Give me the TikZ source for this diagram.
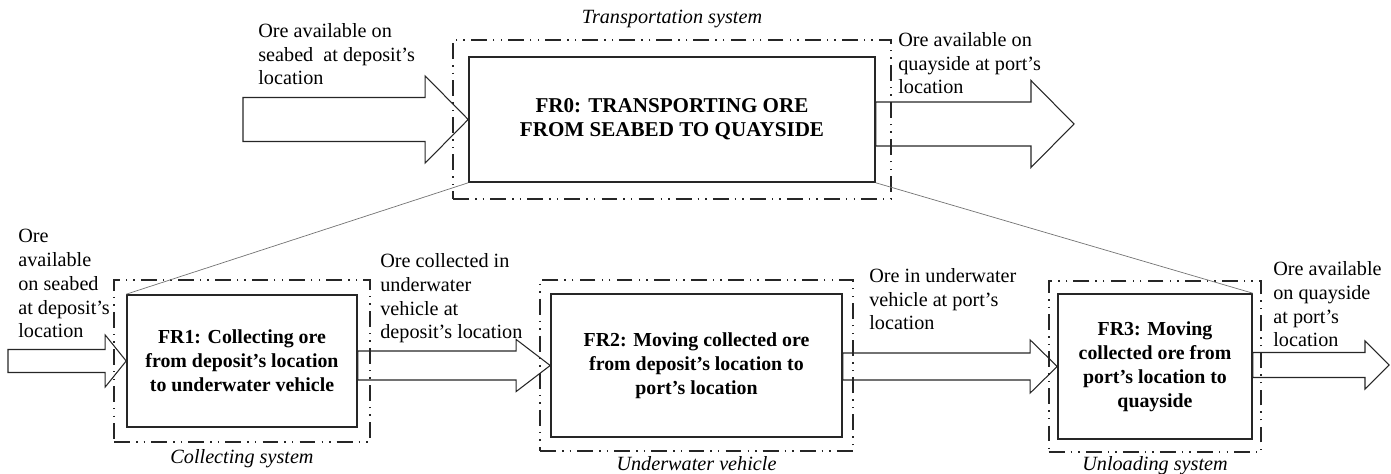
\documentclass[tikz,border=0pt]{standalone}
\usepackage{fontspec}
\setmainfont{Liberation Serif}
\usetikzlibrary{positioning,fit,calc}

% hollow block arrow: tail, tip, half shaft, half head, head length
\newcommand{\blockarrow}[5]{%
  \draw[flow] let \p1=(#1), \p2=(#2) in
    (\x1,\y2+#3) -- (\x2-#5,\y2+#3) -- (\x2-#5,\y2+#4) -- (\x2,\y2)
    -- (\x2-#5,\y2-#4) -- (\x2-#5,\y2-#3) -- (\x1,\y2-#3) -- cycle;}

\tikzset{
  frbox/.style={draw=black!85, line width=0.9pt, align=center, inner sep=2pt,
    font=\fontsize{11.3}{13.6}\selectfont\bfseries},
  sysbox/.style={draw=black!85, line width=1.1pt,
    dash pattern=on 9pt off 3.5pt on 0.8pt off 3.5pt on 0.8pt off 3.5pt},
  syslabel/.style={inner sep=1pt, font=\fontsize{11.5}{13.6}\selectfont\itshape},
  % base of a multi-line node sits on its last line
  flowtext/.style={align=left, inner sep=0pt, anchor=base west,
    font=\fontsize{11.5}{13.6}\selectfont},
  flow/.style={draw=black!85, line width=0.6pt},
  zoomline/.style={draw=black!55, line width=0.4pt}
}

\begin{document}
\begin{tikzpicture}
    \useasboundingbox (0,0) rectangle (27.82,-9.48);

    % top level requirement
    \node[frbox, minimum width=8.12cm, minimum height=2.5cm,
      font=\fontsize{12}{13.6}\selectfont\bfseries] (fr0) at (13.44,-2.39)
      {FR0: TRANSPORTING ORE\\FROM SEABED TO QUAYSIDE};
    \node[sysbox, fit=(fr0), inner xsep=0.30cm, inner ysep=0.33cm] (sys0) {};
    \node[syslabel, above=0.17cm of sys0] (lab0) {Transportation system};

    % decomposition
    \node[frbox, minimum width=4.6cm, minimum height=2.64cm] (fr1) at (4.84,-7.22)
      {FR1: Collecting ore\\from deposit's location\\to underwater vehicle};
    \node[frbox, minimum width=5.82cm, minimum height=2.86cm] (fr2) at (13.93,-7.31)
      {FR2: Moving collected ore\\from deposit's location to\\port's location};
    \node[frbox, minimum width=3.88cm, minimum height=2.9cm] (fr3) at (23.10,-7.33)
      {FR3: Moving\\collected ore from\\port's location to\\quayside};

    \node[sysbox, fit=(fr1), inner xsep=0.24cm, inner ysep=0.28cm] (sys1) {};
    \node[sysbox, fit=(fr2), inner xsep=0.20cm, inner ysep=0.27cm] (sys2) {};
    \node[sysbox, fit=(fr3), inner xsep=0.17cm, inner ysep=0.25cm] (sys3) {};
    \node[syslabel, below=0.1cm of sys1] (lab1) {Collecting system};
    \node[syslabel, below=0.05cm of sys2] (lab2) {Underwater vehicle};
    \node[syslabel, below=0.02cm of sys3] (lab3) {Unloading system};

    \draw[zoomline] (fr0.south west) -- (fr1.north west);
    \draw[zoomline] (fr0.south east) -- (fr3.north east);

    % flows
    \coordinate (tail0) at (4.86,-2.42);
    \coordinate (head0) at (21.48,-2.48);
    \coordinate (tail1) at (0.16,-7.25);
    \coordinate (head3) at (27.78,-7.30);

    \blockarrow{tail0}{fr0.west}{0.44cm}{0.87cm}{0.86cm}
    \blockarrow{fr0.east}{head0}{0.44cm}{0.87cm}{0.86cm}
    \blockarrow{tail1}{fr1.west}{0.23cm}{0.52cm}{0.42cm}
    \blockarrow{fr1.east}{fr2.west}{0.29cm}{0.52cm}{0.68cm}
    \blockarrow{fr2.east}{fr3.west}{0.27cm}{0.53cm}{0.54cm}
    \blockarrow{fr3.east}{head3}{0.25cm}{0.48cm}{0.48cm}

    \node[flowtext] (in0) at (5.16,-1.70)
      {Ore available on\\seabed\ \ at deposit's\\location};
    \node[flowtext] (out0) at (17.96,-1.88)
      {Ore available on\\quayside at port's\\location};
    \node[flowtext] (in1) at (0.36,-6.76)
      {Ore\\available\\on seabed\\at deposit's\\location};
    \node[flowtext] (out1) at (7.60,-6.78)
      {Ore collected in\\underwater\\vehicle at\\deposit's location};
    \node[flowtext] (out2) at (17.38,-6.60)
      {Ore in underwater\\vehicle at port's\\location};
    \node[flowtext] (out3) at (25.46,-6.94)
      {Ore available\\on quayside\\at port's\\location};
\end{tikzpicture}
\end{document}
